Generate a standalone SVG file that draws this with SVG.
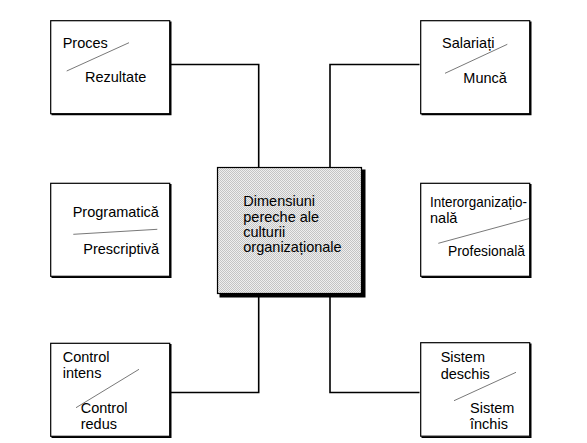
<svg xmlns="http://www.w3.org/2000/svg" width="587" height="443" viewBox="0 0 587 443">
<defs>
<pattern id="dots" width="2" height="2" patternUnits="userSpaceOnUse">
<rect width="2" height="2" fill="#efefef"/>
<rect width="1" height="1" fill="#c4c4c4"/>
<rect x="1" y="1" width="1" height="1" fill="#c4c4c4"/>
</pattern>
</defs>
<style>
.box{fill:#fff;stroke:#000;stroke-width:1.2}
.sh{fill:none;stroke:#000;stroke-width:1.6}
.t{font-family:"Liberation Sans",Arial,sans-serif;font-size:14.5px;fill:#000}
.d{stroke:#555;stroke-width:0.8}
.c{fill:none;stroke:#000;stroke-width:1.6}
</style>
<rect width="587" height="443" fill="#fff"/>
<g id="connectors">
<path class="c" d="M170.7 64.5 H258.7 V167.5"/>
<path class="c" d="M419.5 64.5 H330 V167.5"/>
<path class="c" d="M170.7 392.5 H258.7 V296"/>
<path class="c" d="M419.5 392.5 H330 V296"/>
</g>
<g id="center">
<rect x="217.5" y="167.5" width="144" height="126" fill="url(#dots)" stroke="#000" stroke-width="1.2"/>
<path d="M363.5 169.5 V295.5 H219.5" fill="none" stroke="#000" stroke-width="4"/>
<text class="t" x="243.3" y="205.7">Dimensiuni</text>
<text class="t" x="243.3" y="221.5">pereche ale</text>
<text class="t" x="243.3" y="236.7">culturii</text>
<text class="t" x="243.3" y="251.5">organizaționale</text>
</g>
<g id="proces">
<rect class="box" x="50.7" y="20.7" width="119" height="93"/>
<path class="sh" d="M170.7 21.5 V114.5 H51.5"/>
<line class="d" x1="66.7" y1="71" x2="129" y2="42.7"/>
<text class="t" x="62.7" y="47.7">Proces</text>
<text class="t" x="85" y="82.3">Rezultate</text>
</g>
<g id="salariati">
<rect class="box" x="420.7" y="20.7" width="109" height="93"/>
<path class="sh" d="M530.7 21.5 V114.5 H421.5"/>
<line class="d" x1="445" y1="73.3" x2="507.3" y2="44.3"/>
<text class="t" x="442" y="48.3">Salariați</text>
<text class="t" x="463.3" y="83.3">Muncă</text>
</g>
<g id="programatica">
<rect class="box" x="50.7" y="183.3" width="119" height="93"/>
<path class="sh" d="M170.7 184 V277.3 H51.5"/>
<line class="d" x1="73.3" y1="234.3" x2="157.3" y2="229.3"/>
<text class="t" x="72.7" y="217.3">Programatică</text>
<text class="t" x="83.3" y="254">Prescriptivă</text>
</g>
<g id="interorganizationala">
<rect class="box" x="420.7" y="183.3" width="109" height="93"/>
<path class="sh" d="M530.7 184 V277.3 H421.5"/>
<line class="d" x1="438.3" y1="243.3" x2="529" y2="218.6"/>
<text class="t" x="430" y="207.3" textLength="97" lengthAdjust="spacingAndGlyphs">Interorganizațio-</text>
<text class="t" x="430" y="223.3">nală</text>
<text class="t" x="448" y="256" textLength="77" lengthAdjust="spacingAndGlyphs">Profesională</text>
</g>
<g id="control">
<rect class="box" x="50.7" y="343.3" width="119" height="93"/>
<path class="sh" d="M170.7 344 V437.3 H51.5"/>
<line class="d" x1="76" y1="407.7" x2="139" y2="369.3"/>
<text class="t" x="62.7" y="361.7">Control</text>
<text class="t" x="62.7" y="377.7">intens</text>
<text class="t" x="80.7" y="413.3">Control</text>
<text class="t" x="80.7" y="429.3">redus</text>
</g>
<g id="sistem">
<rect class="box" x="420.7" y="342.7" width="109" height="93.5"/>
<path class="sh" d="M530.7 343.5 V437.3 H421.5"/>
<line class="d" x1="454" y1="400.7" x2="516" y2="372.3"/>
<text class="t" x="440.7" y="362.3">Sistem</text>
<text class="t" x="440.7" y="379.3">deschis</text>
<text class="t" x="470" y="412.7">Sistem</text>
<text class="t" x="470" y="429.3">închis</text>
</g>
</svg>
